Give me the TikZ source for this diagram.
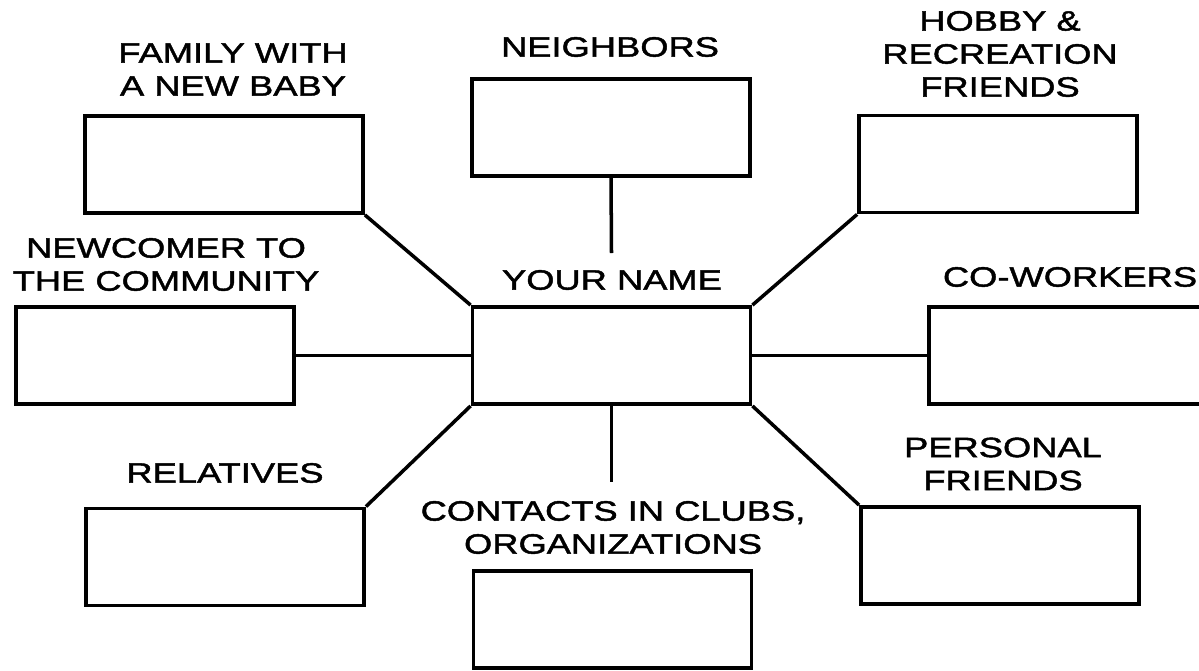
\documentclass[tikz,border=0pt]{standalone}
\usepackage{fontspec}
\newfontfamily\lblfont[FakeStretch=1.3,FakeBold=1.6]{Liberation Sans}
\begin{document}
\begin{tikzpicture}[x=0.02cm,y=-0.02cm,
        box/.style={draw, line width=2.2pt, rectangle, inner sep=0pt,
                    minimum width=5.56cm, minimum height=1.94cm},
        link/.style={line width=2pt},
        lbl/.style={inner sep=0pt, align=center,
                    font=\lblfont\fontsize{15.9}{18.8}\selectfont}]
        \useasboundingbox (0,0) rectangle (1199,670);
        % boxes
        \node[box] (you) at (611.5,355.5) {};
        \node[box] (neigh) at (611,127.5) {};
        \node[box] (family) at (224,164.5) {};
        \node[box] (hobby) at (998,164) {};
        \node[box] (newcomer) at (155,355.5) {};
        \node[box] (cowork) at (1068,355.5) {};
        \node[box] (relatives) at (225,557) {};
        \node[box] (contacts) at (612.5,619.5) {};
        \node[box] (personal) at (1000,555.5) {};
        % labels
        \node[lbl] (youlbl) at (612,280) {YOUR NAME};
        \node[lbl] (neighlbl) at (610,47) {NEIGHBORS};
        \node[lbl] (familylbl) at (233,69.5) {FAMILY WITH\\A NEW BABY};
        \node[lbl] (hobbylbl) at (1000,54) {HOBBY \&\\RECREATION\\FRIENDS};
        \node[lbl] (newcomerlbl) at (166,264.5) {NEWCOMER TO\\THE COMMUNITY};
        \node[lbl] (coworklbl) at (1070,277) {CO-WORKERS};
        \node[lbl] (relativeslbl) at (225,473) {RELATIVES};
        \node[lbl] (contactslbl) at (613,527.5) {CONTACTS IN CLUBS,\\ORGANIZATIONS};
        \node[lbl] (personallbl) at (1003,464) {PERSONAL\\FRIENDS};
        % connectors
        \coordinate (nend) at (611.5,253);
        \coordinate (cend) at (611.5,482);
        \draw[link] (neigh.south) -- (nend);
        \draw[link] (you.south) -- (cend);
        \draw[link] (family.south east) -- (you.north west);
        \draw[link] (hobby.south west) -- (you.north east);
        \draw[link] (newcomer.east) -- (you.west);
        \draw[link] (you.east) -- (cowork.west);
        \draw[link] (relatives.north east) -- (you.south west);
        \draw[link] (you.south east) -- (personal.north west);
\end{tikzpicture}
\end{document}
